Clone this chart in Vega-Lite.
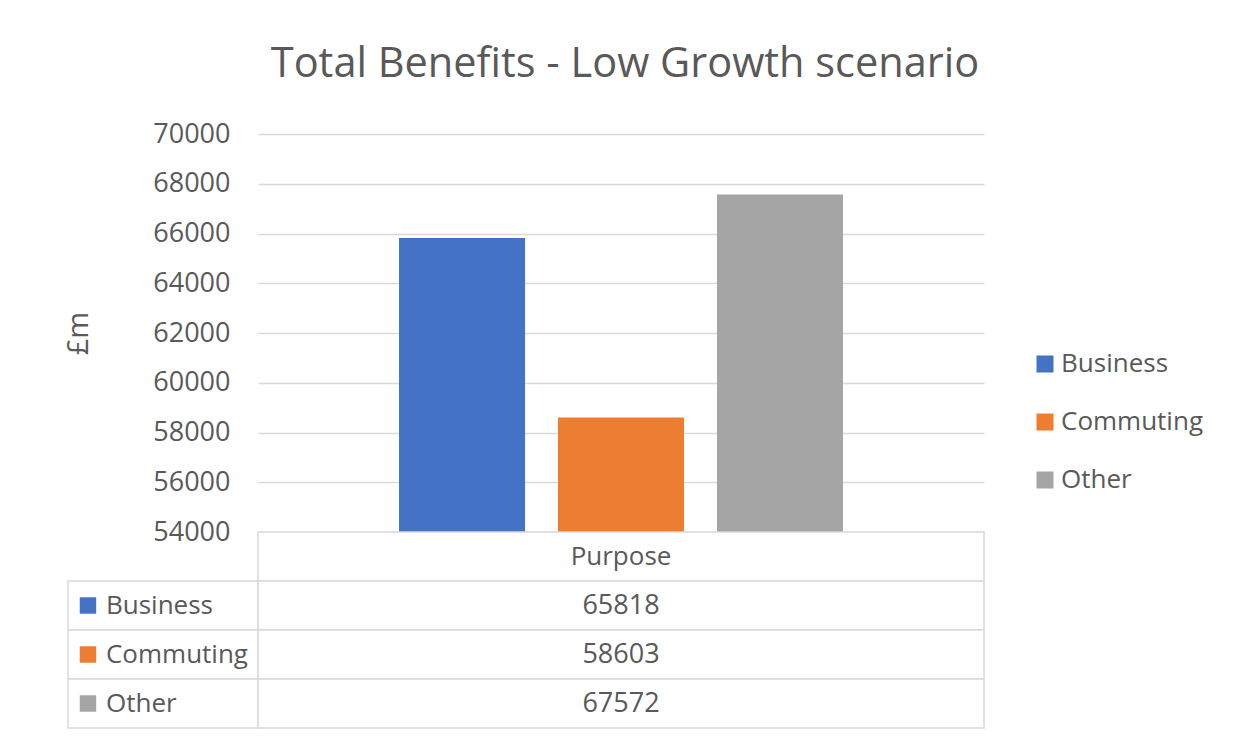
{
  "$schema": "https://vega.github.io/schema/vega-lite/v6.json",
  "width": 726,
  "height": 594,
  "autosize": {"type": "none"},
  "padding": {"left": 258, "top": 134, "right": 266, "bottom": 20},
  "background": "white",
  "config": {
    "font": "Open Sans",
    "view": {"stroke": null}
  },
  "title": {
    "text": "Total Benefits - Low Growth scenario",
    "fontSize": 41.5,
    "fontWeight": "normal",
    "color": "#595959",
    "anchor": "middle",
    "offset": 35,
    "dx": 4
  },
  "data": {
    "values": [
      {"series": "Business", "value": 65818},
      {"series": "Commuting", "value": 58603},
      {"series": "Other", "value": 67572}
    ]
  },
  "layer": [
    {
      "mark": {"type": "bar"},
      "encoding": {
        "x": {
          "field": "series",
          "type": "nominal",
          "scale": {"paddingInner": 0.2075, "paddingOuter": 0.887},
          "axis": null
        },
        "y": {
          "field": "value",
          "type": "quantitative",
          "scale": {"domain": [46121, 70000], "nice": false, "zero": false},
          "axis": {
            "values": [54000, 56000, 58000, 60000, 62000, 64000, 66000, 68000, 70000],
            "format": "d",
            "grid": true,
            "gridColor": "#d9d9d9",
            "gridWidth": 1.5,
            "domain": false,
            "ticks": false,
            "tickSize": 0,
            "labelPadding": 28,
            "labelFontSize": 27,
            "labelColor": "#595959",
            "title": "£m",
            "titleFontSize": 29,
            "titleFontWeight": "normal",
            "titleColor": "#595959",
            "titleAngle": -90,
            "titleX": -180,
            "titleY": 199,
            "titleBaseline": "middle",
            "titleAlign": "center"
          }
        },
        "y2": {"datum": 54000},
        "color": {
          "field": "series",
          "type": "nominal",
          "scale": {
            "domain": ["Business", "Commuting", "Other"],
            "range": ["#4472C4", "#ED7D31", "#A5A5A5"]
          },
          "legend": {
            "title": null,
            "orient": "none",
            "legendX": 774,
            "legendY": 217,
            "padding": 0,
            "symbolType": "square",
            "symbolSize": 289,
            "symbolStrokeWidth": 0,
            "symbolOpacity": 1,
            "labelFontSize": 26,
            "labelColor": "#595959",
            "labelOffset": 3,
            "rowPadding": 32
          }
        }
      }
    },
    {
      "layer": [
        {
          "data": {"values": [{"header": "Purpose"}]},
          "mark": {"type": "rect", "fill": "white", "stroke": "#d9d9d9", "strokeWidth": 1.5},
          "encoding": {
            "y": {"field": "header", "type": "nominal"},
            "x": {"datum": 0, "type": "quantitative"},
            "x2": {"datum": 100}
          }
        },
        {
          "mark": {"type": "rect", "fill": "white", "stroke": "#d9d9d9", "strokeWidth": 1.5},
          "encoding": {
            "y": {"field": "series", "type": "nominal"},
            "x": {"datum": -26.17, "type": "quantitative"},
            "x2": {"datum": 0}
          }
        },
        {
          "mark": {"type": "rect", "fill": "white", "stroke": "#d9d9d9", "strokeWidth": 1.5},
          "encoding": {
            "y": {"field": "series", "type": "nominal"},
            "x": {"datum": 0, "type": "quantitative"},
            "x2": {"datum": 100}
          }
        },
        {
          "data": {"values": [{"header": "Purpose"}]},
          "mark": {"type": "text", "fontSize": 26, "color": "#595959", "align": "center", "baseline": "middle"},
          "encoding": {
            "y": {"field": "header", "type": "nominal"},
            "x": {"datum": 50, "type": "quantitative"},
            "text": {"field": "header"}
          }
        },
        {
          "mark": {"type": "text", "fontSize": 27, "color": "#595959", "align": "center", "baseline": "middle"},
          "encoding": {
            "y": {"field": "series", "type": "nominal"},
            "x": {"datum": 50, "type": "quantitative"},
            "text": {"field": "value", "type": "quantitative", "format": "d"}
          }
        },
        {
          "mark": {"type": "point", "shape": "square", "filled": true, "size": 270, "opacity": 1},
          "encoding": {
            "y": {"field": "series", "type": "nominal"},
            "x": {"datum": -23.42, "type": "quantitative"},
            "color": {"field": "series", "type": "nominal"}
          }
        },
        {
          "mark": {"type": "text", "fontSize": 26, "color": "#595959", "align": "left", "baseline": "middle"},
          "encoding": {
            "y": {"field": "series", "type": "nominal"},
            "x": {"datum": -20.94, "type": "quantitative"},
            "text": {"field": "series"}
          }
        }
      ],
      "encoding": {
        "y": {
          "scale": {
            "type": "band",
            "domain": ["Purpose", "Business", "Commuting", "Other"],
            "range": [398, 594],
            "paddingInner": 0,
            "paddingOuter": 0
          },
          "axis": null
        },
        "x": {
          "scale": {"type": "linear", "domain": [0, 100], "nice": false, "zero": false},
          "axis": null
        }
      }
    }
  ],
  "resolve": {"scale": {"x": "independent", "y": "independent"}}
}
